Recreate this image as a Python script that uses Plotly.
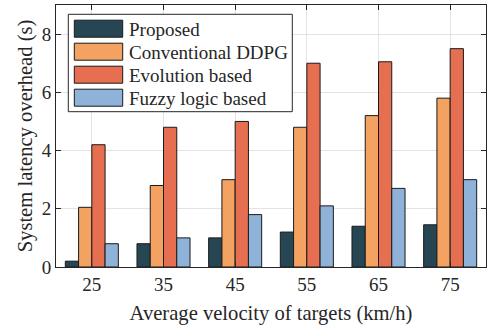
import plotly.graph_objects as go

categories = ["25", "35", "45", "55", "65", "75"]
series_names = ["Proposed", "Conventional DDPG", "Evolution based", "Fuzzy logic based"]
proposed = [0.2, 0.8, 1.0, 1.2, 1.4, 1.45]
ddpg = [2.05, 2.8, 3.0, 4.8, 5.2, 5.8]
evolution = [4.2, 4.8, 5.0, 7.0, 7.05, 7.5]
fuzzy = [0.8, 1.0, 1.8, 2.1, 2.7, 3.0]
y_ticks = [0, 2, 4, 6, 8]

colors = ["#264653", "#f4a261", "#e76f51", "#8fb2d9"]
values = [proposed, ddpg, evolution, fuzzy]

FONT = "Liberation Serif"
W, H = 488, 325
ML, MR, MT, MB = 56, 2, 5, 58
TICK_SIZE = 19
LABEL_SIZE = 20.6

fig = go.Figure()
for name, vals, c in zip(series_names, values, colors):
    fig.add_trace(go.Bar(x=categories, y=vals, name=name,
                         marker=dict(color=c, line=dict(color="#1a1a1a", width=1)), showlegend=False))

def axis_common():
    return dict(showline=True, linecolor="#262626", linewidth=1, mirror="ticks",
                ticks="inside", ticklen=5, tickcolor="#262626",
                showgrid=True, gridcolor="#e3e3e3", gridwidth=1, zeroline=False,
                tickfont=dict(family=FONT, size=TICK_SIZE, color="#262626"))

fig.update_layout(
    width=W, height=H,
    margin=dict(l=ML, r=MR, t=MT, b=MB),
    paper_bgcolor="white", plot_bgcolor="white",
    barmode="group", bargap=0.26, bargroupgap=0.0,
    font=dict(family=FONT, size=TICK_SIZE, color="#262626"),
)
fig.update_xaxes(**axis_common(), range=[-0.5, 5.5])
fig.update_xaxes(title_text="Average velocity of targets (km/h)",
                 title_font=dict(family=FONT, size=LABEL_SIZE, color="#262626"), title_standoff=12)
fig.update_yaxes(**axis_common(), range=[0, 9], tickvals=y_ticks)
fig.update_yaxes(title_text="System latency overhead (s)",
                 title_font=dict(family=FONT, size=LABEL_SIZE, color="#262626"), title_standoff=3)

# custom legend (paper coordinates derived from pixel layout)
pw, ph = W - ML - MR, H - MT - MB
def px(x):
    return (x - ML) / pw
def py(y):
    return 1 - (y - MT) / ph

fig.add_shape(type="rect", xref="paper", yref="paper", x0=px(68.3), x1=px(292.3), y0=py(111.7), y1=py(14.3),
              line=dict(color="#262626", width=1), fillcolor="white", layer="above")
for i, (name, c) in enumerate(zip(series_names, colors)):
    yc = 28.7 + i * 23
    fig.add_shape(type="rect", xref="paper", yref="paper", x0=px(74.3), x1=px(122.7), y0=py(yc + 8.5), y1=py(yc - 8.5),
                  line=dict(color="#1a1a1a", width=1), fillcolor=c, layer="above")
    fig.add_annotation(xref="paper", yref="paper", x=px(126.5), y=py(yc + 1), text=name, showarrow=False,
                       xanchor="left", yanchor="middle", font=dict(family=FONT, size=TICK_SIZE, color="#262626"))

fig.write_html("out.html")
